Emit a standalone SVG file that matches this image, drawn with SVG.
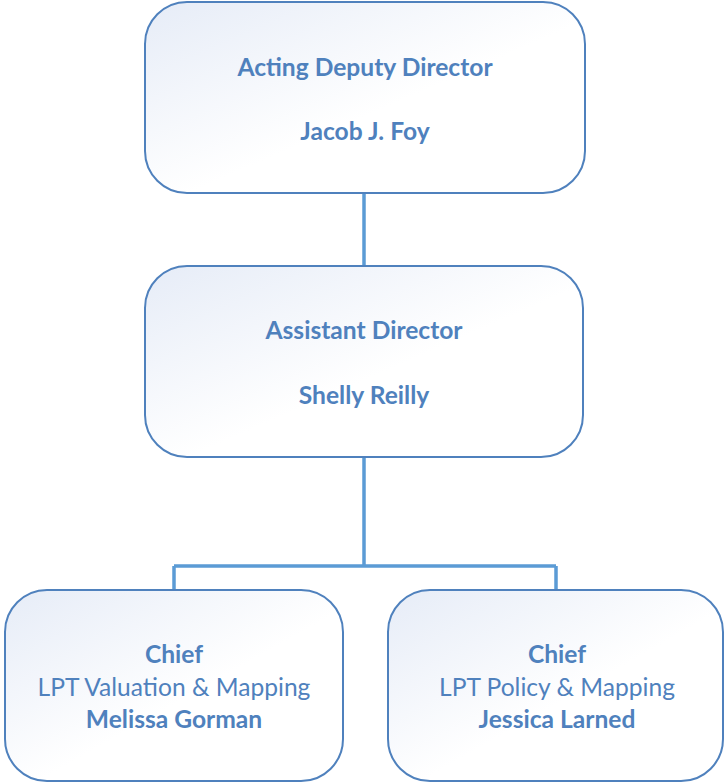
<svg xmlns="http://www.w3.org/2000/svg" width="727" height="783" viewBox="0 0 727 783">
<style>
.box{fill:url(#g);stroke:#4f81bd;stroke-width:2}
.conn{stroke:#5b9bd5;stroke-width:3.5;fill:none}
text{font-family:Lato,"Liberation Sans",sans-serif;fill:#4f81bd;text-anchor:middle}
.b{font-weight:bold;font-size:24.6px}
.r{font-size:24.6px}
</style>
<defs>
<linearGradient id="g" x1="0" y1="0" x2="1" y2="1">
<stop offset="0" stop-color="#e6ecf7"/>
<stop offset="0.55" stop-color="#ffffff"/>
<stop offset="1" stop-color="#ffffff"/>
</linearGradient>
</defs>
<g id="connectors">
<path class="conn" d="M364,193 V266"/>
<path class="conn" d="M364,457 V566 M174,566 H556 M174,566 V590 M556,566 V590"/>
</g>
<g id="n1">
<rect class="box" x="145" y="2" width="440" height="191" rx="42"/>
<text class="b" x="365" y="76">Acting Deputy Director</text>
<text class="b" x="365" y="140">Jacob J. Foy</text>
</g>
<g id="n2">
<rect class="box" x="145" y="266" width="438" height="191" rx="42"/>
<text class="b" x="364" y="339">Assistant Director</text>
<text class="b" x="364" y="404">Shelly Reilly</text>
</g>
<g id="n3">
<rect class="box" x="5" y="590" width="338" height="191" rx="42"/>
<text class="b" x="174" y="663">Chief</text>
<text class="r" x="174" y="696">LPT Valuation &amp; Mapping</text>
<text class="b" x="174" y="728">Melissa Gorman</text>
</g>
<g id="n4">
<rect class="box" x="388" y="590" width="335" height="191" rx="42"/>
<text class="b" x="557" y="663">Chief</text>
<text class="r" x="557" y="696">LPT Policy &amp; Mapping</text>
<text class="b" x="557" y="728">Jessica Larned</text>
</g>
</svg>
